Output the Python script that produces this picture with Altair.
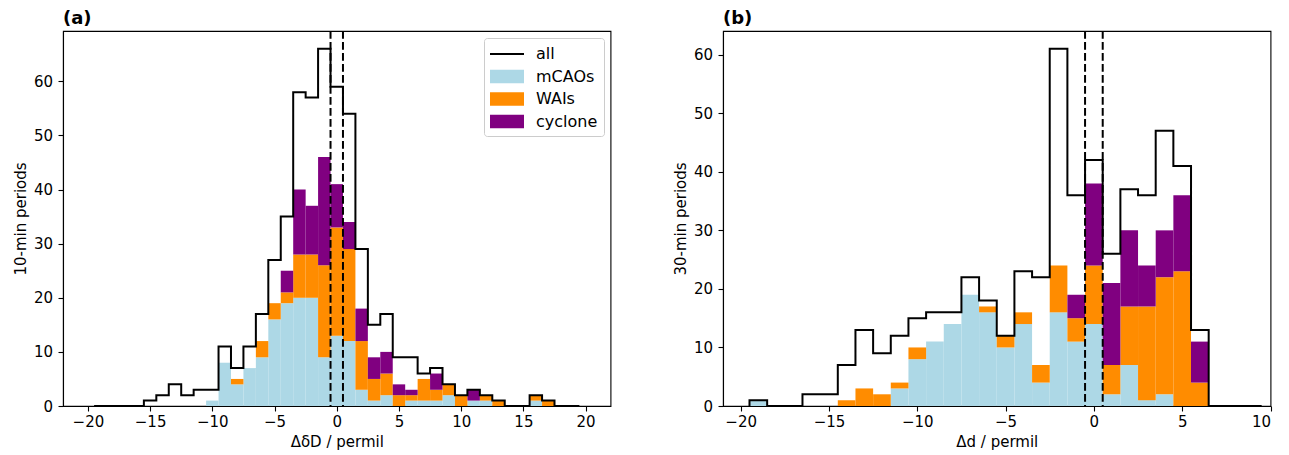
import altair as alt
import pandas as pd

# ---------------- data ----------------
series_names = ["all", "mCAOs", "WAIs", "cyclone"]
series_colors = ["black", "lightblue", "darkorange", "purple"]

# panel (a): 10-min periods, bins of width 1 centred on integers
centers_a = list(range(-19, 20))
all_a  = [0, 0, 0, 0, 1, 2, 4, 2, 3, 3, 11, 7, 11, 17, 27, 35, 58, 57, 66, 59,
          54, 29, 15, 17, 9, 9, 6, 7, 4, 2, 3, 2, 1, 0, 0, 2, 1, 0, 0]
mcao_a = [0, 0, 0, 0, 0, 0, 0, 0, 0, 1, 8, 4, 7, 9, 16, 19, 20, 20, 9, 13,
          12, 3, 1, 2, 0, 1, 1, 1, 2, 0, 1, 1, 0, 0, 0, 1, 0, 0, 0]
wai_a  = [0, 0, 0, 0, 0, 0, 0, 0, 0, 0, 0, 1, 0, 3, 3, 2, 8, 8, 17, 20,
          17, 9, 4, 4, 2, 1, 4, 2, 2, 2, 0, 1, 1, 0, 0, 1, 1, 0, 0]
cyc_a  = [0, 0, 0, 0, 0, 0, 0, 0, 0, 0, 0, 0, 0, 0, 0, 4, 12, 9, 20, 8,
          5, 6, 4, 4, 2, 1, 0, 3, 0, 0, 2, 0, 0, 0, 0, 0, 0, 0, 0]

# panel (b): 30-min periods
centers_b = list(range(-19, 10))
all_b  = [1, 0, 0, 2, 2, 7, 13, 9, 12, 15, 16, 16, 22, 18, 12, 23, 22, 61, 36, 42,
          26, 37, 36, 47, 41, 13, 0, 0, 0]
mcao_b = [1, 0, 0, 0, 0, 0, 0, 0, 3, 8, 11, 14, 19, 16, 10, 14, 4, 16, 11, 14,
          2, 7, 1, 2, 0, 0, 0, 0, 0]
wai_b  = [0, 0, 0, 0, 0, 1, 3, 2, 1, 2, 0, 0, 0, 1, 2, 2, 3, 8, 4, 10,
          5, 10, 16, 20, 23, 4, 0, 0, 0]
cyc_b  = [0, 0, 0, 0, 0, 0, 0, 0, 0, 0, 0, 0, 0, 0, 0, 0, 0, 0, 4, 14,
          14, 13, 7, 8, 13, 7, 0, 0, 0]

thresholds = [-0.5, 0.5]
bin_width = 1.0

x_ticks_a = [-20, -15, -10, -5, 0, 5, 10, 15, 20]
x_ticks_b = [-20, -15, -10, -5, 0, 5, 10]
y_ticks = [0, 10, 20, 30, 40, 50, 60]

# ---------------- helpers ----------------
def bars_frame(centers, groups):
    rows = []
    for order, (name, vals) in enumerate(groups):
        for c, v in zip(centers, vals):
            if v > 0:
                rows.append({"center": c, "lo": c - bin_width / 2, "hi": c + bin_width / 2,
                             "series": name, "count": v, "ord": order})
    return pd.DataFrame(rows)


def step_frame(centers, counts):
    pts = [(centers[0] - bin_width / 2, 0)]
    for c, v in zip(centers, counts):
        pts.append((c - bin_width / 2, v))
    pts.append((centers[-1] + bin_width / 2, counts[-1]))
    pts.append((centers[-1] + bin_width / 2, 0))
    return pd.DataFrame({"x": [p[0] for p in pts], "y": [p[1] for p in pts],
                         "i": list(range(len(pts)))})


PATCH = "M-1,-0.667H2.4V0.667H-1Z"
LINE = "M-1,-0.1H2.4V0.1H-1Z"
color_scale = alt.Scale(domain=series_names, range=series_colors)
shape_scale = alt.Scale(domain=series_names, range=[LINE, PATCH, PATCH, PATCH])


def make_legend():
    return alt.Legend(
        title=None, orient="top-right", offset=7, padding=6,
        fillColor="white", strokeColor="#cccccc", cornerRadius=3,
        symbolSize=400, symbolStrokeWidth=0, symbolOpacity=1,
        labelFontSize=16, labelFont="DejaVu Sans", labelColor="black",
        labelOffset=26, rowPadding=4.5,
    )


def panel(centers, all_c, mcao, wai, cyc, xdom, xticks, ymax, xtitle, ytitle, title, show_legend):
    xs = alt.Scale(domain=xdom, nice=False, zero=False)
    ys = alt.Scale(domain=[0, ymax], nice=False, zero=True)
    xaxis = alt.Axis(values=xticks, title=xtitle, format="d")
    yaxis = alt.Axis(values=y_ticks, title=ytitle, format="d")

    bdf = bars_frame(centers, [("mCAOs", mcao), ("WAIs", wai), ("cyclone", cyc)])
    bars = alt.Chart(bdf).transform_stack(
        stack="count", as_=["y0", "y1"], groupby=["center"],
        sort=[alt.SortField("ord", order="ascending")],
    ).mark_rect(opacity=1, strokeWidth=0).encode(
        x=alt.X("lo:Q", scale=xs, axis=xaxis),
        x2="hi:Q",
        y=alt.Y("y0:Q", scale=ys, axis=yaxis),
        y2="y1:Q",
        color=alt.Color("series:N", scale=color_scale,
                        legend=make_legend() if show_legend else None),
    )

    sdf = step_frame(centers, all_c)
    step = alt.Chart(sdf).mark_line(interpolate="step-after", color="black",
                                    strokeWidth=2, opacity=1).encode(
        x=alt.X("x:Q", scale=xs, axis=xaxis),
        y=alt.Y("y:Q", scale=ys, axis=yaxis),
        order="i:Q",
    )

    rules = alt.Chart(pd.DataFrame({"t": thresholds})).mark_rule(
        color="black", strokeWidth=2, strokeDash=[7.7, 3.3], opacity=1
    ).encode(x=alt.X("t:Q", scale=xs, axis=xaxis))

    layers = [bars, step, rules]
    if show_legend:
        ldf = pd.DataFrame({"series": series_names, "lx": [None] * 4, "ly": [None] * 4})
        leg = alt.Chart(ldf).mark_point(filled=True, opacity=1).encode(
            x=alt.X("lx:Q", scale=xs, axis=xaxis),
            y=alt.Y("ly:Q", scale=ys, axis=yaxis),
            color=alt.Color("series:N", scale=color_scale, legend=make_legend()),
            shape=alt.Shape("series:N", scale=shape_scale, legend=make_legend()),
        )
        layers.append(leg)

    return alt.layer(*layers).properties(
        width=547.5, height=375,
        title=alt.TitleParams(title, anchor="start", frame="group", fontSize=18,
                              fontWeight="bold", font="DejaVu Sans", color="black", offset=1.7),
    )


pa = panel(centers_a, all_a, mcao_a, wai_a, cyc_a, [-22, 22], x_ticks_a, 69.3,
           "ΔδD / permil", "10-min periods", "(a)", True)
pb = panel(centers_b, all_b, mcao_b, wai_b, cyc_b, [-21, 10], x_ticks_b, 64.05,
           "Δd / permil", "30-min periods", "(b)", False)

chart = alt.hconcat(pa, pb, spacing=60).resolve_scale(
    color="independent", shape="independent"
).resolve_legend(
    color="independent", shape="independent"
).properties(
    padding={"left": 4, "top": 1, "right": 5, "bottom": 0}
).configure(font="DejaVu Sans").configure_view(
    stroke="black", strokeWidth=1.1
).configure_axis(
    grid=False, labelFont="DejaVu Sans", titleFont="DejaVu Sans",
    labelFontSize=15, titleFontSize=15, titleFontWeight="normal",
    labelColor="black", titleColor="black", tickColor="black", domainColor="black",
    tickSize=5, tickWidth=1.1, domainWidth=1.1,
).configure_axisX(labelPadding=3, titlePadding=5.3).configure_axisY(
    labelPadding=5.5, titlePadding=5
)

chart.save("out.html", embed_options={"renderer": "svg", "actions": False})
